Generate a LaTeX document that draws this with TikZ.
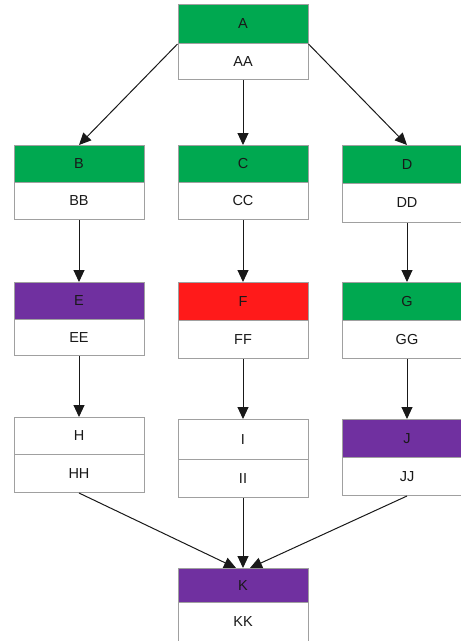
\documentclass[tikz,border=0pt]{standalone}
\usepackage{fontspec}
\setmainfont{Liberation Sans}
\usetikzlibrary{arrows.meta}

\definecolor{hdrgreen}{RGB}{0,168,80}
\definecolor{hdrred}{RGB}{255,26,26}
\definecolor{hdrpurple}{RGB}{112,48,160}
\definecolor{boxline}{RGB}{160,160,160}
\definecolor{txt}{RGB}{25,25,25}

\tikzset{
  cell/.style={draw=boxline, line width=1pt, minimum width=130pt, inner sep=0pt,
    font=\fontsize{14.5}{17}\selectfont, text=txt, anchor=north},
  link/.style={draw=black!90, line width=1pt,
    -{Triangle[length=12pt,width=11pt]}},
}

% entity box: name, centre x, top y, divider y, bottom y, header fill, title, subtitle
\newcommand\entity[8]{%
  \node[cell, fill=#6, minimum height={(#4-#3)*1pt}] (#1-h) at (#2,#3) {#7};
  \node[cell, fill=white, minimum height={(#5-#4)*1pt}] (#1-b) at (#2,#4) {#8};
}

\begin{document}
\begin{tikzpicture}[x=1pt,y=-1pt]
  \useasboundingbox (0,0) rectangle (461,641);
  \clip (0,0) rectangle (461,641);
  \fill[white] (0,0) rectangle (461,641);

  % top
  \entity{A}{243}{4}{43}{79}{hdrgreen}{A}{AA}
  % second row
  \entity{B}{79}{145}{182}{219}{hdrgreen}{B}{BB}
  \entity{C}{243}{145}{182}{219}{hdrgreen}{C}{CC}
  \entity{D}{407}{145}{183}{222}{hdrgreen}{D}{DD}
  % third row
  \entity{E}{79}{282}{319}{355}{hdrpurple}{E}{EE}
  \entity{F}{243}{282}{320}{358}{hdrred}{F}{FF}
  \entity{G}{407}{282}{320}{358}{hdrgreen}{G}{GG}
  % fourth row
  \entity{H}{79}{417}{454}{492}{white}{H}{HH}
  \entity{I}{243}{419}{459}{497}{white}{I}{II}
  \entity{J}{407}{419}{457}{495}{hdrpurple}{J}{JJ}
  % bottom
  \entity{K}{243}{568}{602}{641}{hdrpurple}{K}{KK}

  % connectors
  \draw[link] (A-h.south west) -- (B-h.north);
  \draw[link] (A-b.south) -- (C-h.north);
  \draw[link] (A-h.south east) -- (D-h.north);
  \draw[link] (B-b.south) -- (E-h.north);
  \draw[link] (C-b.south) -- (F-h.north);
  \draw[link] (D-b.south) -- (G-h.north);
  \draw[link] (E-b.south) -- (H-h.north);
  \draw[link] (F-b.south) -- (I-h.north);
  \draw[link] (G-b.south) -- (J-h.north);
  \draw[link] (H-b.south) -- ([xshift=-7pt]K-h.north);
  \draw[link] (I-b.south) -- (K-h.north);
  \draw[link] (J-b.south) -- ([xshift=7pt]K-h.north);
\end{tikzpicture}
\end{document}
